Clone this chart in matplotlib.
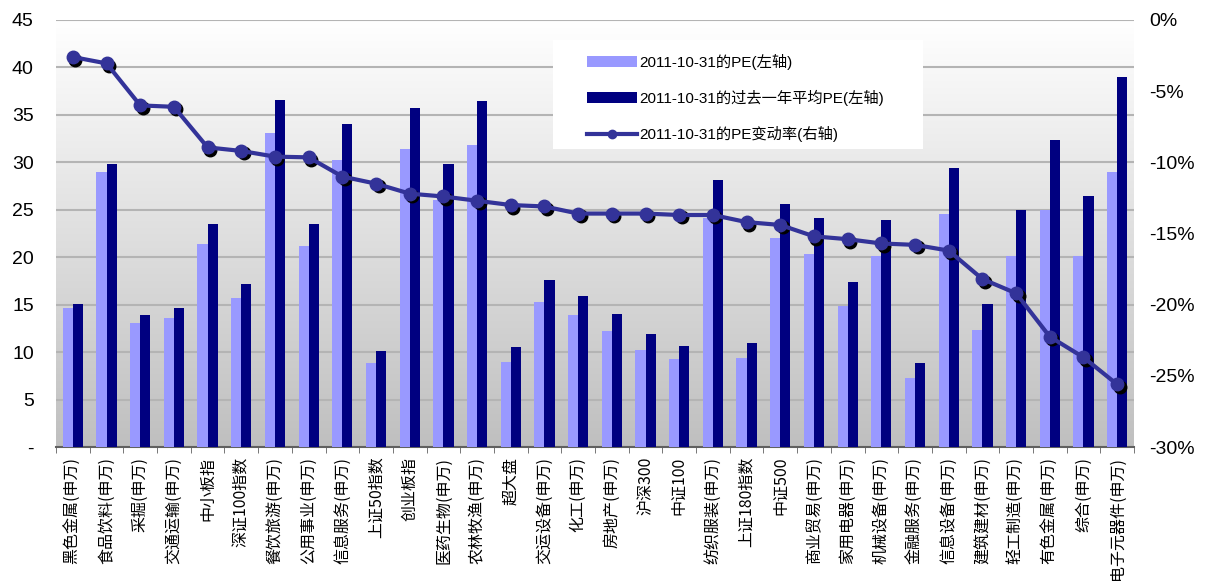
import matplotlib
matplotlib.use("Agg")
import matplotlib.pyplot as plt
import matplotlib.transforms as mtransforms
from matplotlib.patches import Patch, Rectangle
from matplotlib.lines import Line2D
import numpy as np

plt.rcParams['font.family'] = ['Liberation Sans', 'Noto Sans CJK SC', 'DejaVu Sans']

categories = ['黑色金属(申万)', '食品饮料(申万)', '采掘(申万)', '交通运输(申万)', '中小板指',
              '深证100指数', '餐饮旅游(申万)', '公用事业(申万)', '信息服务(申万)', '上证50指数',
              '创业板指', '医药生物(申万)', '农林牧渔(申万)', '超大盘', '交运设备(申万)',
              '化工(申万)', '房地产(申万)', '沪深300', '中证100', '纺织服装(申万)',
              '上证180指数', '中证500', '商业贸易(申万)', '家用电器(申万)', '机械设备(申万)',
              '金融服务(申万)', '信息设备(申万)', '建筑建材(申万)', '轻工制造(申万)', '有色金属(申万)',
              '综合(申万)', '电子元器件(申万)']

pe_now = [14.7, 29.0, 13.1, 13.6, 21.4, 15.7, 33.1, 21.2, 30.2, 8.9,
          31.4, 26.0, 31.8, 9.0, 15.3, 13.9, 12.2, 10.2, 9.3, 24.1,
          9.4, 22.0, 20.3, 14.9, 20.1, 7.3, 24.6, 12.3, 20.1, 25.0,
          20.1, 29.0]

pe_avg = [15.1, 29.8, 13.9, 14.7, 23.5, 17.2, 36.6, 23.5, 34.0, 10.1,
          35.7, 29.8, 36.5, 10.5, 17.6, 15.9, 14.0, 11.9, 10.6, 28.1,
          11.0, 25.6, 24.1, 17.4, 23.9, 8.9, 29.4, 15.1, 25.0, 32.4,
          26.4, 39.0]

pe_change = [-2.6, -3.05, -6.0, -6.1, -8.95, -9.2, -9.6, -9.65, -11.0, -11.5,
             -12.2, -12.4, -12.7, -13.0, -13.1, -13.6, -13.6, -13.6, -13.7, -13.7,
             -14.2, -14.4, -15.2, -15.4, -15.7, -15.8, -16.2, -18.2, -19.2, -22.25,
             -23.7, -25.6]

left_ticks = [0, 5, 10, 15, 20, 25, 30, 35, 40, 45]
left_labels = ['-', '5', '10', '15', '20', '25', '30', '35', '40', '45']
right_ticks = [-30, -25, -20, -15, -10, -5, 0]
right_labels = ['-30%', '-25%', '-20%', '-15%', '-10%', '-5%', '0%']

light = '#9999FF'
dark = '#000080'
line_c = '#333399'

fig = plt.figure(figsize=(12.09, 5.83), dpi=100)
ax = fig.add_axes([56 / 1209, 136 / 583, 1078 / 1209, 427 / 583])
x = np.arange(len(categories))

# background gradient white -> gray
grad = np.linspace(0, 1, 256).reshape(-1, 1)
cols = np.array([1.0, 1.0, 1.0]) * (1 - grad[..., None]) + np.array([0.75, 0.75, 0.75]) * grad[..., None]
ax.imshow(cols, extent=[0, 1, 0, 1], transform=ax.transAxes, aspect='auto', zorder=0)

ax.bar(x - 0.15, pe_now, width=0.3, color=light, zorder=3)
ax.bar(x + 0.15, pe_avg, width=0.3, color=dark, zorder=3)

ax.set_xlim(-0.5, len(categories) - 0.5)
ax.set_ylim(0, 45)
ax.set_yticks(left_ticks)
ax.set_yticklabels(left_labels, fontsize=14)
ax.yaxis.grid(True, color='#b4b4b4', linewidth=1.5, zorder=1)
ax.set_axisbelow(True)
ax.tick_params(axis='y', length=0, pad=16)

ax.set_xticks(x)
ax.set_xticklabels(categories, rotation=90, fontsize=11.5, va='top',
                   family=['Noto Sans CJK SC', 'DejaVu Sans'])
ax.set_xticks(np.arange(len(categories) + 1) - 0.5, minor=True)
ax.tick_params(axis='x', which='major', length=0, pad=7)
ax.tick_params(axis='x', which='minor', length=4, color='#606060', direction='out')

for s in ['top', 'left', 'right']:
    ax.spines[s].set_visible(False)
ax.spines['bottom'].set_color('#606060')
ax.spines['bottom'].set_linewidth(1.5)

ax2 = ax.twinx()
ax2.set_ylim(-30, 0)
ax2.set_yticks(right_ticks)
ax2.set_yticklabels(right_labels, fontsize=14)
ax2.tick_params(axis='y', length=0, pad=11)
for s in ax2.spines.values():
    s.set_visible(False)

shadow = mtransforms.offset_copy(ax2.transData, fig=fig, x=2.5, y=-2.5, units='dots')
ax2.plot(x, pe_change, linestyle='none', marker='o', markersize=9, color='black',
         transform=shadow, zorder=4)
ax2.plot(x, pe_change, color=line_c, linewidth=3, marker='o', markersize=9, zorder=5)

# legend box
box = Rectangle((553 / 1209, 1 - 149 / 583), 370 / 1209, 109 / 583, transform=fig.transFigure,
                facecolor='white', edgecolor='none', zorder=8)
ax2.add_patch(box)

handles = [Patch(facecolor=light), Patch(facecolor=dark),
           Line2D([], [], color=line_c, linewidth=3, marker='o', markersize=6)]
labels = ['2011-10-31的PE(左轴)', '2011-10-31的过去一年平均PE(左轴)', '2011-10-31的PE变动率(右轴)']
leg = ax2.legend(handles, labels, loc='upper left', bbox_to_anchor=(587 / 1209, 1 - 54 / 583),
                 bbox_transform=fig.transFigure, frameon=False, fontsize=11,
                 handlelength=3.3, handleheight=0.7, handletextpad=0.15, labelspacing=1.3,
                 borderpad=0, borderaxespad=0)
leg.set_zorder(10)

fig.savefig('out.png', dpi=100, facecolor='white')
